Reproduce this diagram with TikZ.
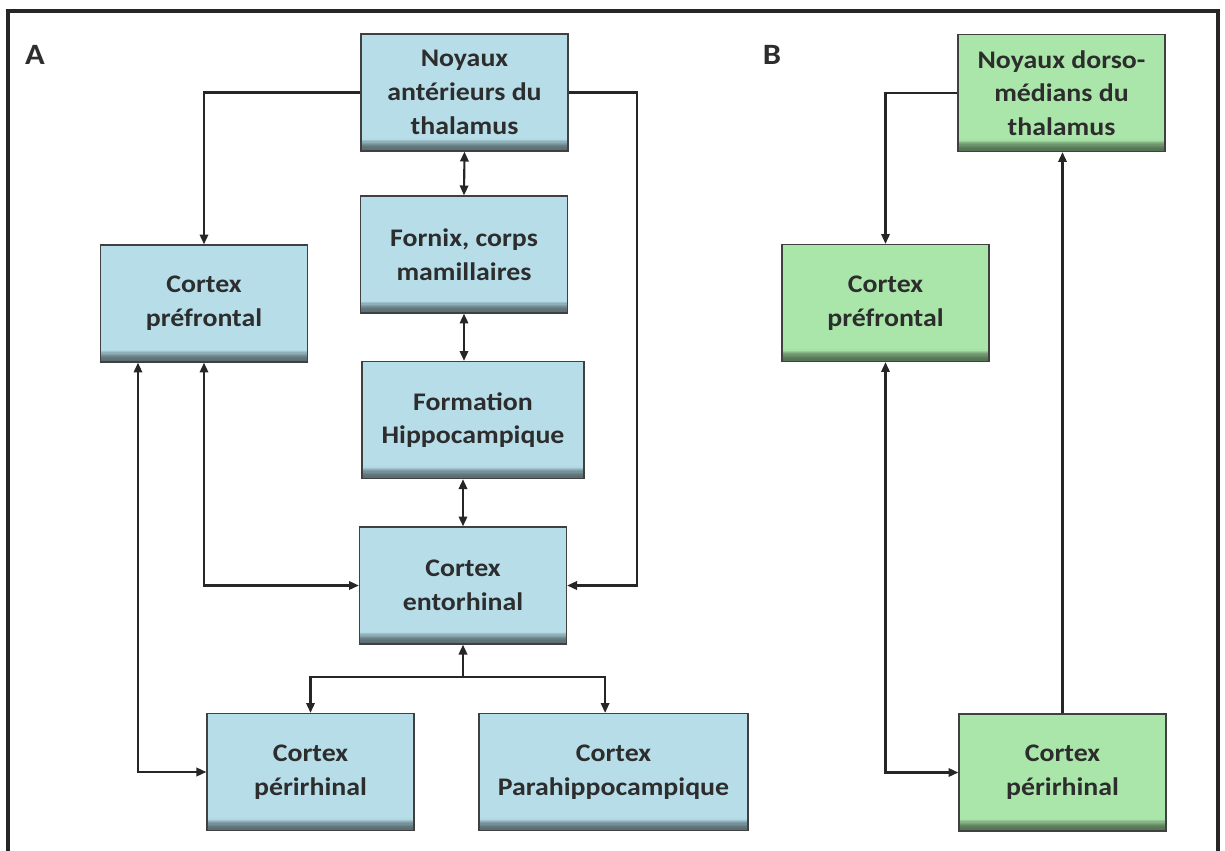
\documentclass[tikz,border=0pt]{standalone}
\usepackage{fontspec}
\setmainfont[FakeStretch=1.1]{Carlito}
\usetikzlibrary{arrows.meta}
\definecolor{bleuA}{RGB}{182,221,232}
\definecolor{vertB}{RGB}{170,230,170}
\definecolor{texte}{RGB}{45,45,45}
\tikzset{
  bloc/.style={draw=black!75,line width=0.9pt,fill=#1,align=center,text=texte,
    font=\bfseries\fontsize{18}{24}\selectfont,inner sep=0pt,
    minimum width=5.175cm,minimum height=2.925cm,
    path picture={\foreach \k [evaluate=\k as \p using int(50+0.6*\k*\k)] in {0,...,9}{
      \fill[#1!\p!black] ([yshift={\k*0.03cm}]path picture bounding box.south west)
        rectangle ([yshift={(\k+1)*0.03cm+0.2pt}]path picture bounding box.south east);}}},
  fleche/.style={line width=1.5pt,draw=black!85,>={Triangle[length=7pt,width=6pt]},->},
  fleches/.style={fleche,<->},
  lettre/.style={font=\bfseries\fontsize{21}{24}\selectfont,text=texte}
}
\begin{document}
\begin{tikzpicture}[x=0.025cm,y=0.025cm]
\useasboundingbox (0,0) rectangle (1225,-850);
\draw[line width=2.4pt,black!85] (8,-852) -- (8,-11) -- (1218,-11) -- (1218,-852);

% A
\node[lettre] (lettreA) at (35,-55) {A};
\node[bloc=bleuA] (noyA) at (464.5,-92.5) {Noyaux\\antérieurs du\\thalamus};
\node[bloc=bleuA] (fornix) at (464,-254.5) {Fornix, corps\\mamillaires};
\node[bloc=bleuA,minimum width=5.55cm] (hippo) at (473,-420) {Formation\\Hippocampique};
\node[bloc=bleuA] (ento) at (463,-585.5) {Cortex\\entorhinal};
\node[bloc=bleuA] (prefA) at (204,-303.5) {Cortex\\préfrontal};
\node[bloc=bleuA] (periA) at (310.5,-772) {Cortex\\périrhinal};
\node[bloc=bleuA,minimum width=6.725cm] (para) at (613.5,-772) {Cortex\\Parahippocampique};

\draw[fleche] (noyA.west) -| (prefA.north);
\draw[fleche] (noyA.east) -- ++(68,0) |- (ento.east);
\draw[fleches] (noyA.south) -- (fornix.north);
\draw[fleches] (fornix.south) -- (fornix.south |- hippo.north);
\draw[fleches] (ento.north |- hippo.south) -- (ento.north);
\draw[fleches] (prefA.south) |- (ento.west);
\draw[fleches] ([xshift=-1.65cm]prefA.south) |- (periA.west);
\coordinate (nA) at (463,-677);
\draw[fleche] (nA) -- (ento.south);
\draw[fleche] (nA) -| (periA.north);
\draw[fleche] (nA) -| ([xshift=-0.21cm]para.north);

% B
\node[lettre] (lettreB) at (772,-55) {B};
\node[bloc=vertB] (noyB) at (1061.5,-93) {Noyaux dorso-\\médians du\\thalamus};
\node[bloc=vertB] (prefB) at (885.5,-303) {Cortex\\préfrontal};
\node[bloc=vertB] (periB) at (1062.5,-772.5) {Cortex\\périrhinal};

\draw[fleche] (noyB.west) -| (prefB.north);
\draw[fleches] (prefB.south) |- (periB.west);
\draw[fleche] (periB.north) -- (periB.north |- noyB.south);

\end{tikzpicture}
\end{document}
